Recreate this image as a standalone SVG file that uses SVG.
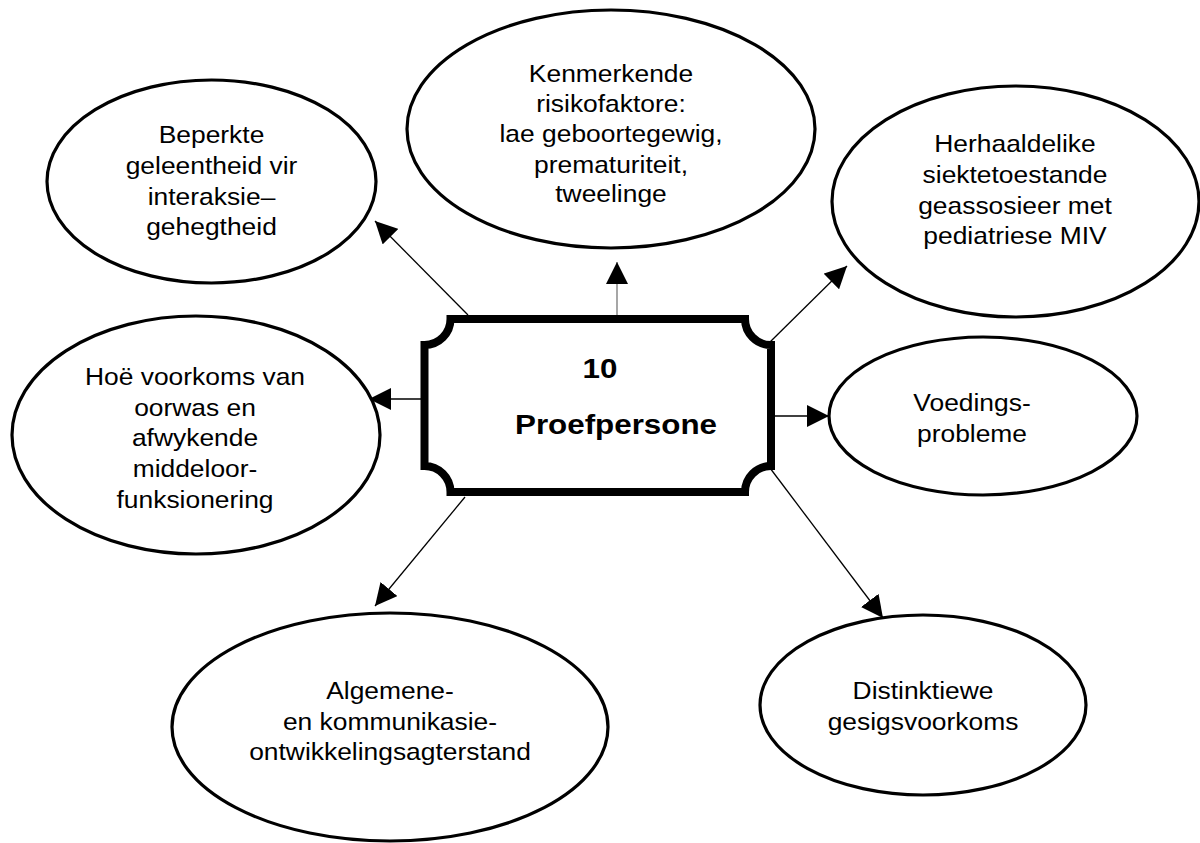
<svg xmlns="http://www.w3.org/2000/svg" width="1200" height="843" viewBox="0 0 1200 843">
<style>
.ell{fill:#fff;stroke:#000;stroke-width:3.2}
.t{font-family:"Liberation Sans",Arial,sans-serif;font-size:24px;fill:#000;text-anchor:middle}
.b{font-family:"Liberation Sans",Arial,sans-serif;font-size:28.5px;font-weight:bold;fill:#000;text-anchor:middle}
.c{stroke:#000;stroke-width:1.3;fill:none;marker-end:url(#ah)}
</style>
<defs>
<marker id="ah" markerUnits="userSpaceOnUse" markerWidth="22" markerHeight="22" viewBox="0 0 20 20" refX="20" refY="10" orient="auto">
<path d="M0,0 L20,10 L0,20 Z" fill="#000"/>
</marker>
</defs>
<rect width="1200" height="843" fill="#fff"/>
<g id="connectors">
<line class="c" x1="468" y1="315" x2="375" y2="221"/>
<line class="c" x1="617" y1="315" x2="617" y2="262" style="stroke:#777"/>
<line class="c" x1="769" y1="343" x2="847" y2="266"/>
<line class="c" x1="424" y1="399" x2="369" y2="399"/>
<line class="c" x1="771" y1="416" x2="829" y2="416"/>
<line class="c" x1="465" y1="497" x2="375" y2="606"/>
<line class="c" x1="770" y1="468" x2="883" y2="618"/>
</g>
<g id="n1">
<ellipse class="ell" cx="211.5" cy="181.5" rx="164.5" ry="101.5"/>
<g transform="translate(211.5,0) scale(1.1,1)" class="t">
<text x="0" y="143.5">Beperkte</text>
<text x="0" y="174.5">geleentheid vir</text>
<text x="0" y="205">interaksie–</text>
<text x="0" y="235.5">gehegtheid</text>
</g>
</g>
<g id="n2">
<ellipse class="ell" cx="611" cy="129" rx="204" ry="119"/>
<g transform="translate(611,0) scale(1.1,1)" class="t">
<text x="0" y="82.5">Kenmerkende</text>
<text x="0" y="112.5">risikofaktore:</text>
<text x="0" y="142.5">lae geboortegewig,</text>
<text x="0" y="173">prematuriteit,</text>
<text x="0" y="202">tweelinge</text>
</g>
</g>
<g id="n3">
<ellipse class="ell" cx="1015.5" cy="201.5" rx="183.5" ry="115.5"/>
<g transform="translate(1015,0) scale(1.1,1)" class="t">
<text x="0" y="152">Herhaaldelike</text>
<text x="0" y="183">siektetoestande</text>
<text x="0" y="214">geassosieer met</text>
<text x="0" y="244">pediatriese MIV</text>
</g>
</g>
<g id="n4">
<ellipse class="ell" cx="196" cy="435" rx="184" ry="119"/>
<g transform="translate(195,0) scale(1.1,1)" class="t">
<text x="0" y="385">Hoë voorkoms van</text>
<text x="0" y="416">oorwas en</text>
<text x="0" y="446.5">afwykende</text>
<text x="0" y="477">middeloor-</text>
<text x="0" y="508">funksionering</text>
</g>
</g>
<g id="n5">
<ellipse class="ell" cx="983" cy="416" rx="154" ry="79"/>
<g transform="translate(972,0) scale(1.1,1)" class="t">
<text x="0" y="411">Voedings-</text>
<text x="0" y="442">probleme</text>
</g>
</g>
<g id="n6">
<ellipse class="ell" cx="390" cy="727" rx="218" ry="114"/>
<g transform="translate(390,0) scale(1.1,1)" class="t">
<text x="0" y="699">Algemene-</text>
<text x="0" y="730">en kommunikasie-</text>
<text x="0" y="760">ontwikkelingsagterstand</text>
</g>
</g>
<g id="n7">
<ellipse class="ell" cx="923" cy="705" rx="163" ry="90"/>
<g transform="translate(923,0) scale(1.1,1)" class="t">
<text x="0" y="699">Distinktiewe</text>
<text x="0" y="730">gesigsvoorkoms</text>
</g>
</g>
<g id="center">
<path d="M450.5,319 L745,319 A26,26 0 0 0 771,345 L771,466 A26,26 0 0 0 745,492 L450.5,492 A26,26 0 0 0 424.5,466 L424.5,345 A26,26 0 0 0 450.5,319 Z" fill="#fff" stroke="#000" stroke-width="8"/>
<g transform="translate(600,0) scale(1.1,1)" class="b">
<text x="0" y="378">10</text>
</g>
<g transform="translate(616,0) scale(1.1,1)" class="b">
<text x="0" y="434">Proefpersone</text>
</g>
</g>
</svg>
